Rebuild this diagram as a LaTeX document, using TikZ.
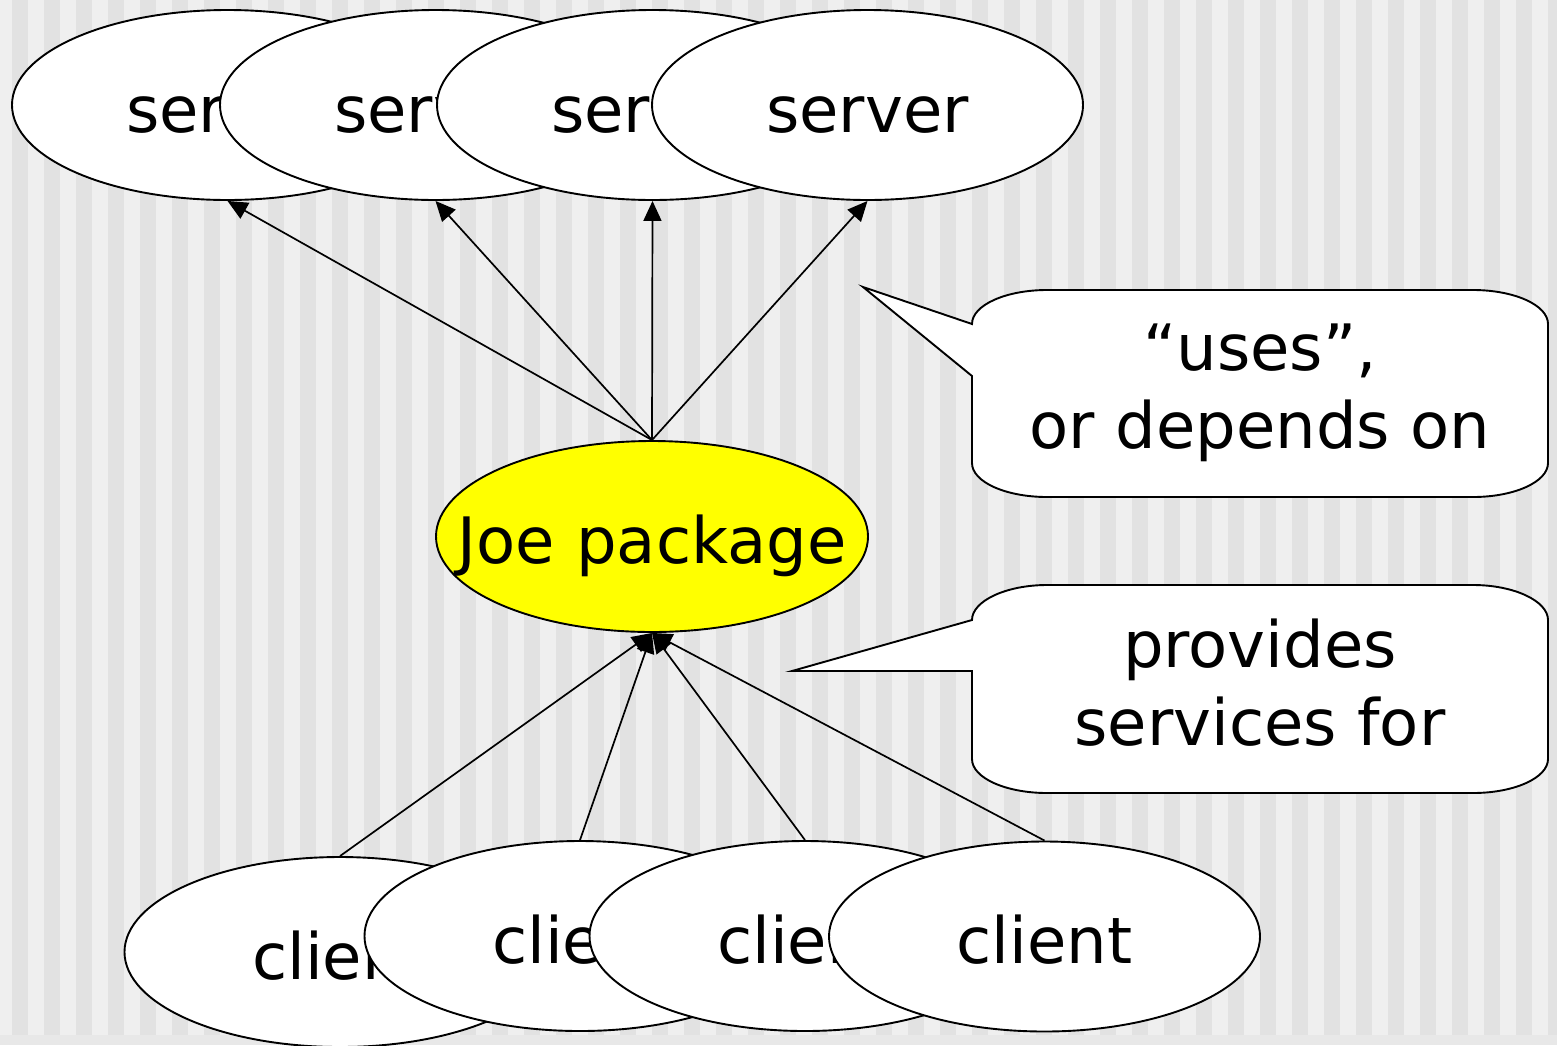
\documentclass[tikz,border=0pt]{standalone}
\usepackage{fontspec}
\setmainfont{DejaVu Sans}
\usetikzlibrary{shapes.geometric,arrows.meta}
\definecolor{bgdark}{HTML}{E2E2E2}
\definecolor{bglight}{HTML}{EFEFEF}
\definecolor{bgbase}{HTML}{E8E8E8}
\definecolor{joeyellow}{HTML}{FFFF00}
\tikzset{
  oval/.style={ellipse, draw=black, line width=1.9pt, fill=white,
    minimum width=431pt, minimum height=190pt, inner sep=0pt,
    text height=54pt, text depth=0pt, text width=0pt, align=center,
    font=\fontsize{64}{76}\selectfont},
  joeoval/.style={oval, fill=joeyellow, minimum width=432pt, minimum height=191pt},
  dep/.style={line width=1.7pt, -{Triangle[length=20pt,width=18pt]}},
  callout/.style={draw=black, line width=1.9pt, fill=white, line join=miter},
  callouttext/.style={anchor=base, align=center, inner sep=0pt,
    font=\fontsize{64}{78}\selectfont}
}
\newcommand{\ctr}[1]{\makebox[0pt]{#1}}
\begin{document}
\begin{tikzpicture}[x=1pt,y=-1pt]
\useasboundingbox (0,0) rectangle (1557,1045);
% background
\fill[bgbase] (0,0) rectangle (1557,1045);
\fill[bglight] (0,0) rectangle (1557,1035);
\foreach \i in {0,...,48} \fill[bgdark] ({12+32*\i},0) rectangle ++(16,1035);
% servers
\node[oval] (s1) at (227.5,105) {\ctr{server}};
\node[oval] (s2) at (435.5,105) {\ctr{server}};
\node[oval] (s3) at (652.5,105) {\ctr{server}};
\node[oval] (s4) at (867.5,105) {\ctr{server}};
% clients
\node[oval] (c1) at (340,952) {\ctr{client}};
\node[oval] (c2) at (580,936) {\ctr{client}};
\node[oval] (c3) at (805,936) {\ctr{client}};
\node[oval] (c4) at (1044.5,936.5) {\ctr{client}};
% Joe
\node[joeoval] (joe) at (652,536.5) {\ctr{Joe package}};
% arrows
\foreach \s in {s1,s2,s3,s4} \draw[dep] (joe.north) -- (\s.south);
\foreach \c in {c1,c2,c3,c4} \draw[dep] (\c.north) -- (joe.south);
% callout 1
\draw[callout] (972,376) -- (863,287) -- (972,324)
  .. controls (972,305) and (1006,290) .. (1047,290) -- (1473,290)
  .. controls (1514,290) and (1548,305) .. (1548,324) -- (1548,463)
  .. controls (1548,482) and (1514,497) .. (1473,497) -- (1047,497)
  .. controls (1006,497) and (972,482) .. (972,463) -- cycle;
\node[callouttext] (t1) at (1260,448) {“uses”,\\or depends on};
% callout 2
\draw[callout] (972,671) -- (792,671) -- (972,620)
  .. controls (972,601) and (1006,585) .. (1047,585) -- (1473,585)
  .. controls (1514,585) and (1548,601) .. (1548,620) -- (1548,759)
  .. controls (1548,778) and (1514,793) .. (1473,793) -- (1047,793)
  .. controls (1006,793) and (972,778) .. (972,759) -- cycle;
\node[callouttext] (t2) at (1260,745) {provides\\services for};
\end{tikzpicture}
\end{document}
